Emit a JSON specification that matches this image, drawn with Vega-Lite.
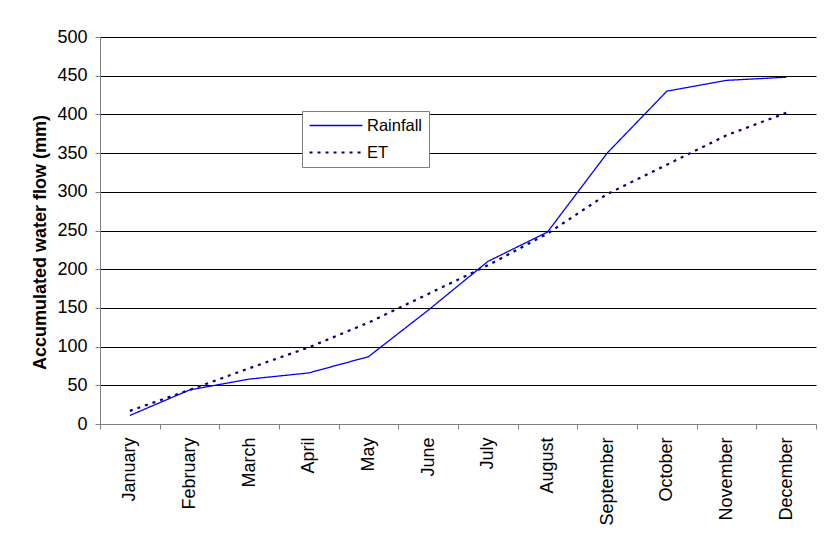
{
  "$schema": "https://vega.github.io/schema/vega-lite/v6.json",
  "width": 716,
  "height": 387,
  "autosize": "none",
  "padding": {"left": 100, "top": 37, "right": 21, "bottom": 115},
  "background": "white",
  "config": {
    "view": {"stroke": null},
    "font": "Liberation Sans",
    "legend": {
      "orient": "none",
      "legendX": 202,
      "legendY": 74,
      "fillColor": "white",
      "strokeColor": "#808080",
      "padding": 6,
      "symbolType": "stroke",
      "symbolSize": 2800,
      "clipHeight": 17,
      "labelFontSize": 16.5,
      "labelColor": "#000000",
      "labelOffset": 3,
      "rowPadding": 10,
      "title": null
    }
  },
  "data": {
    "values": [
      {"month": "January", "series": "Rainfall", "value": 11},
      {"month": "February", "series": "Rainfall", "value": 44},
      {"month": "March", "series": "Rainfall", "value": 58},
      {"month": "April", "series": "Rainfall", "value": 66},
      {"month": "May", "series": "Rainfall", "value": 87},
      {"month": "June", "series": "Rainfall", "value": 147},
      {"month": "July", "series": "Rainfall", "value": 210},
      {"month": "August", "series": "Rainfall", "value": 248},
      {"month": "September", "series": "Rainfall", "value": 350},
      {"month": "October", "series": "Rainfall", "value": 430},
      {"month": "November", "series": "Rainfall", "value": 444},
      {"month": "December", "series": "Rainfall", "value": 448},
      {"month": "January", "series": "ET", "value": 17},
      {"month": "February", "series": "ET", "value": 44},
      {"month": "March", "series": "ET", "value": 72},
      {"month": "April", "series": "ET", "value": 99},
      {"month": "May", "series": "ET", "value": 131},
      {"month": "June", "series": "ET", "value": 168},
      {"month": "July", "series": "ET", "value": 205},
      {"month": "August", "series": "ET", "value": 246},
      {"month": "September", "series": "ET", "value": 297},
      {"month": "October", "series": "ET", "value": 335},
      {"month": "November", "series": "ET", "value": 373},
      {"month": "December", "series": "ET", "value": 402}
    ]
  },
  "mark": {"type": "line"},
  "encoding": {
    "x": {
      "field": "month",
      "type": "ordinal",
      "sort": ["January", "February", "March", "April", "May", "June", "July", "August", "September", "October", "November", "December"],
      "scale": {"paddingInner": 0, "paddingOuter": 0},
      "axis": {
        "title": null,
        "grid": false,
        "labelAngle": 270,
        "labelAlign": "right",
        "labelBaseline": "middle",
        "labelFontSize": 18,
        "labelColor": "#000000",
        "labelPadding": 8,
        "tickBand": "extent",
        "tickSize": 5,
        "tickColor": "#808080",
        "domainColor": "#808080"
      }
    },
    "y": {
      "field": "value",
      "type": "quantitative",
      "scale": {"domain": [0, 500]},
      "axis": {
        "values": [0, 50, 100, 150, 200, 250, 300, 350, 400, 450, 500],
        "title": "Accumulated water flow (mm)",
        "titleFontSize": 18,
        "titleFontWeight": "bold",
        "titleColor": "#000000",
        "titleAngle": 270,
        "titleX": -60,
        "titleY": 205,
        "titleAlign": "center",
        "titleBaseline": "middle",
        "labelFontSize": 18,
        "labelColor": "#000000",
        "labelPadding": 8,
        "tickSize": 5,
        "tickColor": "#808080",
        "domainColor": "#808080",
        "grid": true,
        "gridColor": {"condition": {"test": "datum.value === 0", "value": "#808080"}, "value": "#000000"},
        "gridOpacity": 1
      }
    },
    "color": {
      "field": "series",
      "type": "nominal",
      "scale": {"domain": ["Rainfall", "ET"], "range": ["#0000FF", "#000080"]}
    },
    "strokeDash": {
      "field": "series",
      "type": "nominal",
      "scale": {"domain": ["Rainfall", "ET"], "range": [[1, 0], [3, 5]]}
    },
    "strokeWidth": {
      "field": "series",
      "type": "nominal",
      "scale": {"domain": ["Rainfall", "ET"], "range": [1.3, 2.2]}
    }
  }
}
